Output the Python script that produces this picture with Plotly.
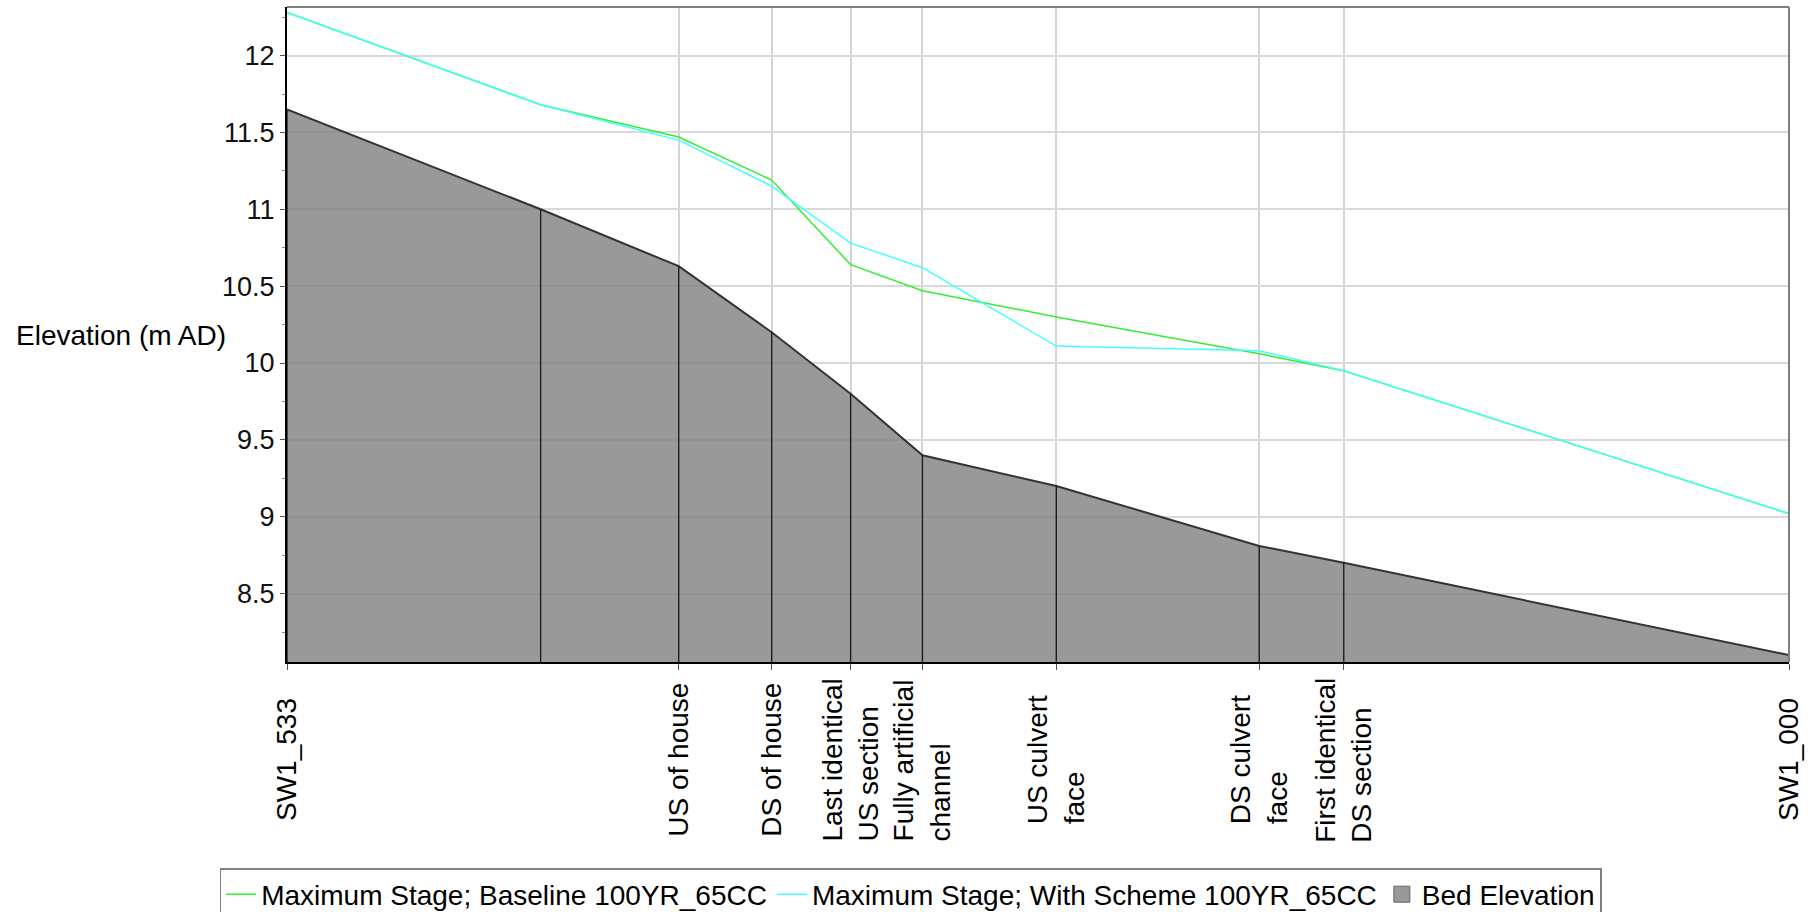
import plotly.graph_objects as go

# ---------------- data ----------------
stations = ["SW1_533", "", "US of house", "DS of house",
            "Last identical<br>US section", "Fully artificial<br>channel",
            "US culvert<br>face", "DS culvert<br>face",
            "First identical<br>DS section", "SW1_000"]
distance = [0, 90, 139, 172, 200, 225.5, 273, 345, 375, 533]
bed_elevation = [11.65, 11.00, 10.63, 10.20, 9.80, 9.40, 9.20, 8.81, 8.70, 8.10]
stage_baseline = [12.28, 11.68, 11.47, 11.19, 10.64, 10.47, 10.30, 10.06, 9.95, 9.02]
stage_scheme = [12.28, 11.68, 11.45, 11.15, 10.78, 10.62, 10.11, 10.08, 9.95, 9.02]
y_ticks = [8.5, 9, 9.5, 10, 10.5, 11, 11.5, 12]
y_range = [8.055, 12.316]

FONT = "Liberation Sans, Arial, sans-serif"
BED_FILL = "rgba(128,128,128,0.8)"

fig = go.Figure()

# bed elevation (filled)
fig.add_trace(go.Scatter(
    x=distance, y=bed_elevation, mode="lines", name="Bed Elevation",
    fill="tozeroy", fillcolor=BED_FILL, showlegend=False,
    line=dict(color="#333333", width=2)))

# vertical drop lines from the bed to the axis
dx, dy = [], []
for d, b in zip(distance, bed_elevation):
    dx += [d, d, None]
    dy += [y_range[0], b, None]
fig.add_trace(go.Scatter(x=dx, y=dy, mode="lines", showlegend=False,
                         line=dict(color="#1a1a1a", width=1.3), hoverinfo="skip"))

fig.add_trace(go.Scatter(
    x=distance, y=stage_baseline, mode="lines",
    name="Maximum Stage; Baseline 100YR_65CC",
    line=dict(color="#33ee33", width=1.5), legendrank=1))
fig.add_trace(go.Scatter(
    x=distance, y=stage_scheme, mode="lines",
    name="Maximum Stage; With Scheme 100YR_65CC",
    line=dict(color="#44ffff", width=1.5), legendrank=2))

# legend swatch for the bed (square)
fig.add_trace(go.Scatter(
    x=[None], y=[None], mode="markers", name="Bed Elevation",
    marker=dict(symbol="square", size=24, color="#999999",
                line=dict(color="#666666", width=1)), legendrank=3))

# rotated station labels
for d, s in zip(distance, stations):
    if s:
        fig.add_annotation(x=d, xref="x", y=-0.1496, yref="paper",
                           text=s, textangle=-90, showarrow=False,
                           xanchor="center", yanchor="middle", align="left",
                           font=dict(family=FONT, size=28, color="black"))

# y-axis title (horizontal)
fig.add_annotation(x=-0.1818, xref="paper", y=0.499, yref="paper",
                   text="Elevation (m AD)", showarrow=False,
                   xanchor="left", yanchor="middle",
                   font=dict(family=FONT, size=28, color="black"))

# top and right frame lines
fig.add_shape(type="line", xref="paper", yref="paper", x0=0, x1=1, y0=1, y1=1,
              line=dict(color="#7f7f7f", width=2), layer="above")
fig.add_shape(type="line", xref="paper", yref="paper", x0=1, x1=1, y0=0, y1=1,
              line=dict(color="#7f7f7f", width=2), layer="above")

label_vals = [d for d, s in zip(distance, stations) if s]

fig.update_layout(
    width=1814, height=912,
    margin=dict(l=287, r=25, t=7, b=250, autoexpand=False),
    paper_bgcolor="white", plot_bgcolor="white",
    font=dict(family=FONT, size=28, color="black"),
    showlegend=True,
    legend=dict(orientation="h", xref="container", x=0.502, xanchor="center",
                yref="container", y=1 - 868 / 912, yanchor="top",
                bordercolor="#808080", borderwidth=1.5, bgcolor="white",
                font=dict(family=FONT, size=28, color="black"),
                itemwidth=30, tracegroupgap=0),
    xaxis=dict(range=[distance[0], distance[-1]], tickvals=label_vals,
               showticklabels=False, ticks="outside", ticklen=6, tickcolor="#555555",
               showgrid=True, gridcolor="#d4d4d4", gridwidth=1.5, zeroline=False,
               showline=True, linecolor="black", linewidth=2, layer="above traces"),
    yaxis=dict(range=y_range, tickvals=y_ticks, ticks="outside", ticklen=5,
               tickcolor="#555555", tickfont=dict(family=FONT, size=27, color="#111111"),
               showgrid=True, gridcolor="#d9d9d9", gridwidth=2, zeroline=False,
               showline=True, linecolor="black", linewidth=2, layer="above traces",
               minor=dict(dtick=0.25, ticks="outside", ticklen=3, tickcolor="#888888",
                          showgrid=False)),
)

fig.write_html("out.html")
